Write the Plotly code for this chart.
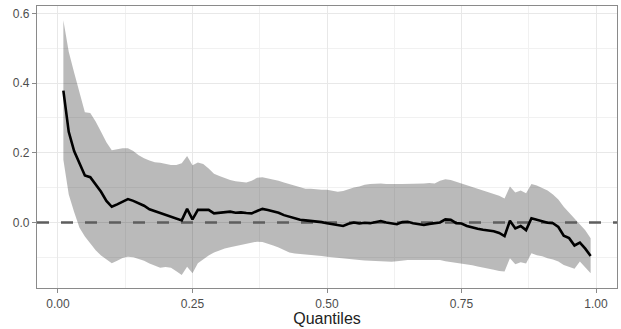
import plotly.graph_objects as go

quantiles = [round(0.01 * i, 2) for i in range(1, 100)]

estimate = [
    0.378, 0.260, 0.205, 0.170, 0.135, 0.130, 0.110, 0.088, 0.062, 0.045,
    0.052, 0.060, 0.067, 0.062, 0.056, 0.048, 0.038, 0.033, 0.027, 0.022,
    0.018, 0.012, 0.006, 0.039, 0.009, 0.036, 0.036, 0.036, 0.026, 0.028,
    0.029, 0.031, 0.028, 0.029, 0.027, 0.026, 0.033, 0.039, 0.036, 0.033,
    0.028, 0.021, 0.016, 0.012, 0.008, 0.006, 0.005, 0.003, 0.001, -0.002,
    -0.004, -0.008, -0.010, -0.004, 0.000, -0.003, -0.001, -0.002, 0.002, 0.004,
    0.000, -0.003, -0.005, 0.001, 0.002, -0.002, -0.004, -0.007, -0.004, -0.002,
    0.000, 0.009, 0.008, -0.002, -0.003, -0.010, -0.015, -0.018, -0.021, -0.023,
    -0.025, -0.030, -0.039, 0.005, -0.017, -0.010, -0.022, 0.012, 0.008, 0.004,
    -0.001, -0.002, -0.013, -0.038, -0.045, -0.066, -0.058, -0.075, -0.096,
]

upper = [
    0.580, 0.490, 0.430, 0.370, 0.316, 0.314, 0.290, 0.260, 0.230, 0.207,
    0.210, 0.213, 0.213, 0.205, 0.193, 0.184, 0.178, 0.173, 0.171, 0.168,
    0.165, 0.165, 0.170, 0.191, 0.164, 0.172, 0.168, 0.155, 0.140, 0.133,
    0.127, 0.122, 0.118, 0.116, 0.115, 0.120, 0.128, 0.130, 0.127, 0.123,
    0.120, 0.115, 0.110, 0.106, 0.100, 0.097, 0.097, 0.095, 0.094, 0.094,
    0.091, 0.088, 0.090, 0.096, 0.100, 0.103, 0.108, 0.110, 0.112, 0.112,
    0.110, 0.109, 0.110, 0.110, 0.110, 0.111, 0.110, 0.112, 0.113, 0.112,
    0.120, 0.124, 0.122, 0.116, 0.112, 0.107, 0.102, 0.097, 0.092, 0.087,
    0.082, 0.077, 0.069, 0.103, 0.086, 0.092, 0.084, 0.110, 0.106, 0.100,
    0.092, 0.080, 0.066, 0.045, 0.028, 0.012, -0.003, -0.022, -0.045,
]

lower = [
    0.180, 0.080, 0.030, -0.015, -0.040, -0.060, -0.080, -0.095, -0.107, -0.117,
    -0.110, -0.102, -0.098, -0.100, -0.105, -0.110, -0.118, -0.125, -0.130, -0.128,
    -0.130, -0.140, -0.151, -0.127, -0.146, -0.117, -0.105, -0.095, -0.086, -0.080,
    -0.075, -0.071, -0.068, -0.064, -0.060, -0.057, -0.055, -0.056, -0.060, -0.066,
    -0.072, -0.080, -0.086, -0.089, -0.090, -0.092, -0.093, -0.094, -0.096, -0.098,
    -0.100, -0.102, -0.103, -0.105, -0.106, -0.108, -0.109, -0.110, -0.111, -0.112,
    -0.112, -0.113, -0.111, -0.109, -0.108, -0.108, -0.108, -0.107, -0.106, -0.106,
    -0.108, -0.111, -0.113, -0.116, -0.117, -0.120, -0.123, -0.126, -0.130, -0.133,
    -0.136, -0.139, -0.141, -0.103, -0.120, -0.114, -0.118, -0.088, -0.094, -0.097,
    -0.103, -0.106, -0.112, -0.122, -0.128, -0.133, -0.112, -0.130, -0.146,
]

x_ticks = [0.0, 0.25, 0.5, 0.75, 1.0]
y_ticks = [0.0, 0.2, 0.4, 0.6]
x_range = [-0.039, 1.039]
y_range = [-0.188, 0.621]

fig = go.Figure()

fig.add_trace(go.Scatter(x=quantiles, y=lower, mode="lines",
                         line=dict(width=0, color="rgba(0,0,0,0)"),
                         showlegend=False, hoverinfo="skip"))
fig.add_trace(go.Scatter(x=quantiles, y=upper, mode="lines", fill="tonexty",
                         fillcolor="rgba(0,0,0,0.27)",
                         line=dict(width=0, color="rgba(0,0,0,0)"),
                         showlegend=False, hoverinfo="skip"))
fig.add_trace(go.Scatter(x=x_range, y=[0, 0], mode="lines",
                         line=dict(color="#5e5e5e", width=2.6, dash="12px,12px"),
                         showlegend=False, hoverinfo="skip"))
fig.add_trace(go.Scatter(x=quantiles, y=estimate, mode="lines",
                         line=dict(color="black", width=2.6),
                         showlegend=False))

axis_common = dict(
    showline=True, mirror=True, linecolor="#8a8a8a", linewidth=1.2,
    ticks="outside", ticklen=4, tickcolor="#8a8a8a", tickwidth=1.1,
    showgrid=True, gridcolor="#e8e8e8", gridwidth=1.1, zeroline=False,
    tickfont=dict(family="Liberation Sans, Arial, sans-serif", size=12, color="#4d4d4d"),
)

fig.update_xaxes(range=x_range, tickvals=x_ticks, tickformat=".2f",
                 minor=dict(dtick=0.125, tick0=0.125, showgrid=True,
                            gridcolor="#f1f1f1", gridwidth=0.9, ticks=""),
                 title=dict(text="Quantiles", standoff=0,
                            font=dict(family="Liberation Sans, Arial, sans-serif",
                                      size=16, color="#222222")),
                 **axis_common)
fig.update_yaxes(range=y_range, tickvals=y_ticks, tickformat=".1f",
                 minor=dict(dtick=0.1, tick0=0.1, showgrid=True,
                            gridcolor="#f1f1f1", gridwidth=0.9, ticks=""),
                 **axis_common)

fig.update_layout(
    width=621, height=329,
    margin=dict(l=37, r=4, t=6, b=41),
    paper_bgcolor="white", plot_bgcolor="white",
    showlegend=False,
)

fig.write_html("out.html")
